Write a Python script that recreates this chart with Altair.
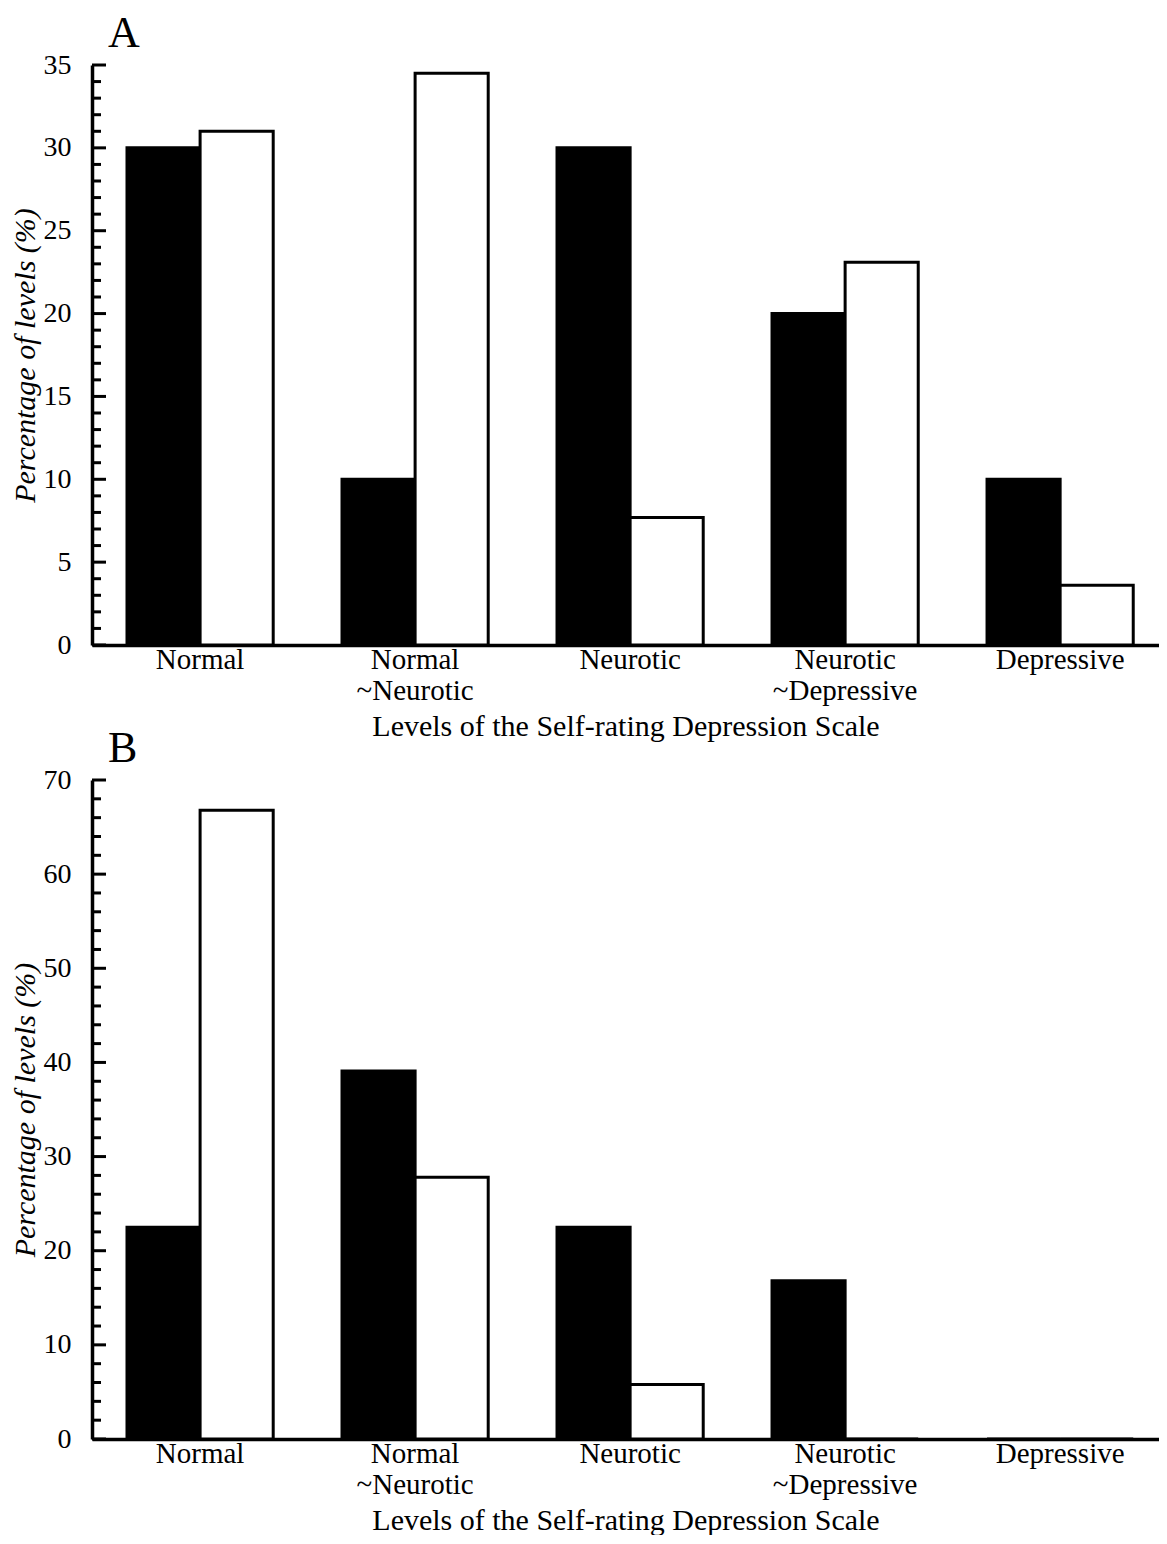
import altair as alt
import pandas as pd

categories = ["Normal", "Normal|~Neurotic", "Neurotic", "Neurotic|~Depressive", "Depressive"]
groups = ["Group 1", "Group 2"]

a_black = [30.0, 10.0, 30.0, 20.0, 10.0]
a_white = [31.0, 34.5, 7.7, 23.1, 3.6]
b_black = [22.5, 39.1, 22.5, 16.8, 0.0]
b_white = [66.8, 27.8, 5.8, 0.0, 0.0]

a_major = [0, 5, 10, 15, 20, 25, 30, 35]
a_minor = [1, 2, 3, 4, 6, 7, 8, 9, 11, 12, 13, 14, 16, 17, 18, 19, 21, 22, 23, 24,
           26, 27, 28, 29, 31, 32, 33, 34]
b_major = [0, 10, 20, 30, 40, 50, 60, 70]
b_minor = [2, 4, 6, 8, 12, 14, 16, 18, 22, 24, 26, 28, 32, 34, 36, 38, 42, 44, 46, 48,
           52, 54, 56, 58, 62, 64, 66, 68]

FONT = "Liberation Serif"
X_TITLE = "Levels of the Self-rating Depression Scale"
Y_TITLE = "Percentage of levels (%)"
W = 1067


def panel(letter, black, white, major, minor, ymax, height):
    rows = []
    for c, vb, vw in zip(categories, black, white):
        rows.append({"level": c, "group": groups[0], "value": vb})
        rows.append({"level": c, "group": groups[1], "value": vw})
    df = pd.DataFrame(rows)
    yscale = alt.Scale(domain=[0, ymax], nice=False, zero=True)

    bars = alt.Chart(df).mark_bar(stroke="black", strokeWidth=3).encode(
        x=alt.X("level:N", sort=categories,
                scale=alt.Scale(paddingInner=0.32, paddingOuter=0.1413, align=0.576),
                axis=alt.Axis(title=X_TITLE, labelAngle=0,
                              labelExpr="split(datum.value, '|')",
                              labelPadding=0, labelLineHeight=31,
                              labelBaseline="top", titlePadding=6)),
        xOffset=alt.XOffset("group:N", sort=groups,
                            scale=alt.Scale(paddingInner=0, paddingOuter=0)),
        y=alt.Y("value:Q", scale=yscale,
                axis=alt.Axis(title=Y_TITLE, values=major, labelPadding=21,
                              titlePadding=3, titleFontStyle="italic")),
        fill=alt.Fill("group:N", sort=groups,
                      scale=alt.Scale(domain=groups, range=["black", "white"]),
                      legend=None),
    )

    major_ticks = alt.Chart(pd.DataFrame({"t": major})).mark_rule(
        color="black", strokeWidth=3).encode(
        x=alt.value(0), x2=alt.value(14), y=alt.Y("t:Q", scale=yscale))
    minor_ticks = alt.Chart(pd.DataFrame({"t": minor})).mark_rule(
        color="black", strokeWidth=3).encode(
        x=alt.value(0), x2=alt.value(9), y=alt.Y("t:Q", scale=yscale))

    return alt.layer(bars, major_ticks, minor_ticks).properties(
        width=W, height=height,
        title=alt.TitleParams(letter, anchor="start", frame="group", dx=16,
                              fontSize=44, font=FONT, fontWeight="normal",
                              baseline="alphabetic", offset=-40, color="black"),
    )


chart = alt.vconcat(
    panel("A", a_black, a_white, a_major, a_minor, 35, 580),
    panel("B", b_black, b_white, b_major, b_minor, 70, 659),
    spacing=-14,
).properties(
    padding={"left": 2, "top": 4, "right": 0, "bottom": 0}
).configure_view(stroke=None).configure_axis(
    labelFont=FONT, titleFont=FONT, labelFontSize=29, titleFontSize=30,
    labelColor="black", titleColor="black", titleFontWeight="normal",
    domainColor="black", domainWidth=3.5, ticks=False, grid=False,
).configure_axisY(labelFontSize=28)

chart.save("out.html", embed_options={"renderer": "svg", "actions": False})
